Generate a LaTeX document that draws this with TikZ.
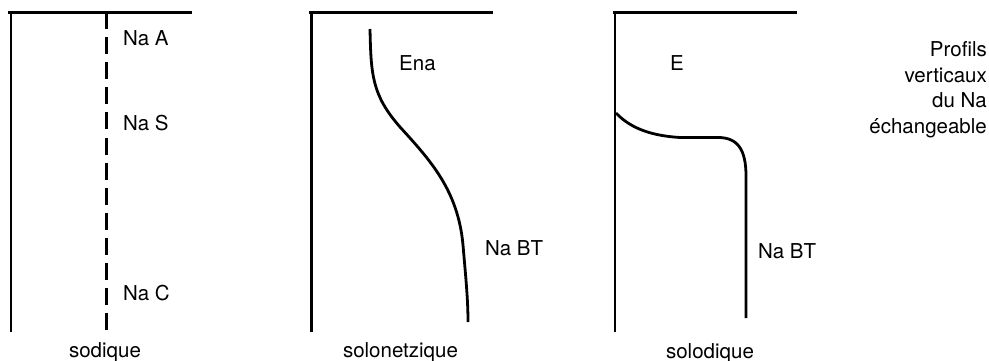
\documentclass[tikz,border=0pt]{standalone}
\usepackage{fontspec}
\setmainfont{TeX Gyre Heros}
\begin{document}
\begin{tikzpicture}[x=1pt,y=-1pt,
  frame/.style={line width=2.8pt},
  profile/.style={line width=2.8pt},
  dashprofile/.style={line width=3pt,dash pattern=on 17pt off 8pt},
  lbl/.style={inner sep=0pt,anchor=base west,font=\fontsize{20.5}{25.5}\selectfont},
  soilname/.style={inner sep=0pt,anchor=base,font=\fontsize{20.5}{25.5}\selectfont}]
\useasboundingbox (0,0) rectangle (989,361);

% --- sodique: frame and dashed (uniform) profile
\coordinate (s-top) at (11,12.5);
\coordinate (s-bot) at (11,332);
\draw[frame] (8,12.5) -- (192,12.5);
\draw[frame] (s-top) -- (s-bot);
\coordinate (s-d1) at (106,12.5);
\coordinate (s-d2) at (106,333);
\draw[dashprofile] (s-d1) -- (s-d2);
\node[lbl] (naA) at (123,46) {Na A};
\node[lbl] (naS) at (123,130) {Na S};
\node[lbl] (naC) at (123,300) {Na C};
\node[soilname] (sod) at (105,357) {sodique};

% --- solonetzique: frame and S-shaped profile
\coordinate (n-top) at (311.5,12.5);
\coordinate (n-bot) at (311.5,332);
\draw[frame] (309,12.5) -- (493,12.5);
\draw[frame] (n-top) -- (n-bot);
\coordinate (n-p0) at (370,29);
\coordinate (n-p3) at (468,322);
\draw[profile] (n-p0) .. controls (371,75) and (372,95) .. (400,127)
  .. controls (430,160) and (458,190) .. (463,245)
  .. controls (466,280) and (468,300) .. (n-p3);
\node[lbl] (ena) at (399,71) {Ena};
\node[lbl] (nbt1) at (485,255) {Na BT};
\node[soilname] (solon) at (400.5,357) {solonetzique};

% --- solodique: frame and stepped profile
\coordinate (d-top) at (615,12.5);
\coordinate (d-bot) at (615,332);
\draw[frame] (612.5,12.5) -- (797,12.5);
\draw[frame] (d-top) -- (d-bot);
\coordinate (d-p0) at (616,113);
\coordinate (d-p3) at (746,318);
\draw[profile] (d-p0) .. controls (632,130) and (655,136) .. (680,137.5)
  -- (718,137.5) .. controls (738,137.5) and (746,150) .. (746,176)
  -- (d-p3);
\node[lbl] (e) at (670,71) {E};
\node[lbl] (nbt2) at (758,258) {Na BT};
\node[soilname] (solod) at (710,358) {solodique};

% --- caption
\node[inner sep=0pt,anchor=north east,align=right,
  font=\fontsize{20.5}{25.5}\selectfont] (title) at (987,41.5)
  {Profils\\verticaux\\du Na\\échangeable};
\end{tikzpicture}
\end{document}
